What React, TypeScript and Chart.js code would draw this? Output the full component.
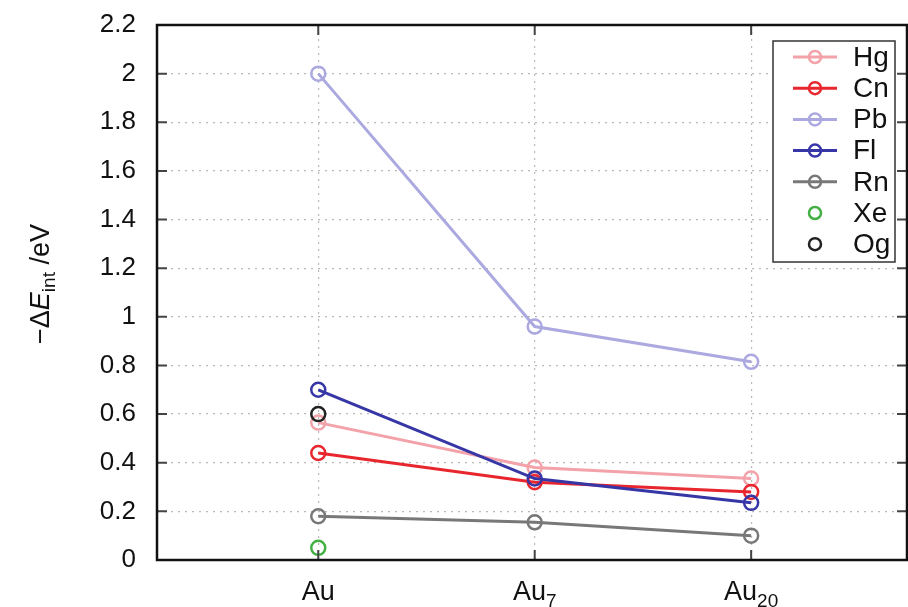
import React, { useEffect, useRef } from 'react';
import { Chart, registerables } from 'chart.js';

Chart.register(...registerables);

// ---- data ----
const categories = ['Au', 'Au_7', 'Au_20'];
const yTicks = [0, 0.2, 0.4, 0.6, 0.8, 1, 1.2, 1.4, 1.6, 1.8, 2, 2.2];
const seriesNames = ['Hg', 'Cn', 'Pb', 'Fl', 'Rn', 'Xe', 'Og'];
const hg = [0.565, 0.38, 0.335];
const cn = [0.44, 0.32, 0.28];
const pb = [2.0, 0.96, 0.815];
const fl = [0.7, 0.335, 0.235];
const rn = [0.18, 0.155, 0.1];
const xe = [0.05, null, null];
const og = [0.6, null, null];
const seriesValues = [hg, cn, pb, fl, rn, xe, og];
const seriesColors = ['#f3a2aa', '#e8262e', '#aba9e0', '#3636a6', '#787878', '#44b044', '#222222'];
const seriesHasLine = [true, true, true, true, true, false, false];
const seriesOrder = [3, 2, 4, 0, 5, 6, 1];

const FONT = '"Liberation Sans", Arial, sans-serif';

const decorPlugin = {
  id: 'decor',
  afterDraw(chart: any) {
    const { ctx, chartArea } = chart;
    const { left, right, top, bottom } = chartArea;
    const xs = chart.scales.x;
    const ys = chart.scales.y;
    ctx.save();
    // inward ticks
    ctx.strokeStyle = '#444';
    ctx.lineWidth = 2;
    yTicks.forEach((v) => {
      if (v === 0 || v === 2.2) return;
      const y = ys.getPixelForValue(v);
      ctx.beginPath();
      ctx.moveTo(left, y);
      ctx.lineTo(left + 10, y);
      ctx.moveTo(right, y);
      ctx.lineTo(right - 10, y);
      ctx.stroke();
    });
    categories.forEach((_, i) => {
      const x = xs.getPixelForValue(i + 1);
      ctx.beginPath();
      ctx.moveTo(x, bottom);
      ctx.lineTo(x, bottom - 10);
      ctx.moveTo(x, top);
      ctx.lineTo(x, top + 10);
      ctx.stroke();
    });
    // frame
    ctx.strokeStyle = '#111';
    ctx.lineWidth = 2.5;
    ctx.strokeRect(left, top, right - left, bottom - top);

    // x category labels with subscripts
    ctx.fillStyle = '#111';
    ctx.textBaseline = 'alphabetic';
    ctx.textAlign = 'left';
    categories.forEach((c, i) => {
      const [base, sub] = c.split('_');
      const mainFont = `27px ${FONT}`;
      const subFont = `19px ${FONT}`;
      ctx.font = mainFont;
      const wb = ctx.measureText(base).width;
      ctx.font = subFont;
      const ws = sub ? ctx.measureText(sub).width : 0;
      const x = xs.getPixelForValue(i + 1) - (wb + ws) / 2;
      const y = 600;
      ctx.font = mainFont;
      ctx.fillText(base, x, y);
      if (sub) {
        ctx.font = subFont;
        ctx.fillText(sub, x + wb, y + 7);
      }
    });

    // y axis title
    ctx.save();
    ctx.translate(49, 284);
    ctx.rotate(-Math.PI / 2);
    const parts = [
      { t: '\u2212\u0394', f: `27px ${FONT}`, dy: 0 },
      { t: 'E', f: `italic 27px ${FONT}`, dy: 0 },
      { t: 'int', f: `19px ${FONT}`, dy: 6 },
      { t: ' /eV', f: `27px ${FONT}`, dy: 0 },
    ];
    let total = 0;
    parts.forEach((p) => {
      ctx.font = p.f;
      total += ctx.measureText(p.t).width;
    });
    let cx = -total / 2;
    parts.forEach((p) => {
      ctx.font = p.f;
      ctx.fillText(p.t, cx, p.dy);
      cx += ctx.measureText(p.t).width;
    });
    ctx.restore();

    // legend
    const bx = 773, by = 41, bw = 122, bh = 221;
    ctx.fillStyle = '#fff';
    ctx.fillRect(bx, by, bw, bh);
    ctx.strokeStyle = '#333';
    ctx.lineWidth = 1.5;
    ctx.strokeRect(bx, by, bw, bh);
    seriesNames.forEach((name, i) => {
      const y = 57 + i * 31.2;
      const col = seriesColors[i];
      ctx.strokeStyle = col;
      if (seriesHasLine[i]) {
        ctx.lineWidth = 3;
        ctx.beginPath();
        ctx.moveTo(793, y);
        ctx.lineTo(837, y);
        ctx.stroke();
      }
      ctx.lineWidth = 2.5;
      ctx.beginPath();
      ctx.arc(815, y, 6, 0, Math.PI * 2);
      ctx.stroke();
      ctx.fillStyle = '#111';
      ctx.font = `28px ${FONT}`;
      ctx.textBaseline = 'middle';
      ctx.fillText(name, 853, y + 1);
    });
    ctx.restore();
  },
};

export default function App() {
  const ref = useRef<HTMLCanvasElement | null>(null);
  useEffect(() => {
    document.body.style.margin = '0';
    const canvas = ref.current;
    if (!canvas) return;
    const datasets = seriesNames.map((name, i) => ({
      label: name,
      data: seriesValues[i]
        .map((v, j) => ({ x: j + 1, y: v }))
        .filter((p) => p.y !== null),
      borderColor: seriesColors[i],
      backgroundColor: 'transparent',
      borderWidth: 3,
      pointRadius: 7,
      pointBorderWidth: 2.5,
      pointBackgroundColor: 'transparent',
      pointBorderColor: seriesColors[i],
      showLine: seriesHasLine[i],
      order: seriesOrder[i],
      clip: false as any,
    }));
    const chart = new Chart(canvas, {
      type: 'line',
      data: { datasets },
      options: {
        responsive: false,
        animation: false,
        layout: { autoPadding: false, padding: { top: 25, right: 1, left: 0, bottom: 0 } },
        plugins: { legend: { display: false }, tooltip: { enabled: false } },
        scales: {
          x: {
            type: 'linear',
            min: 0.255,
            max: 3.72,
            afterBuildTicks: (s: any) => {
              s.ticks = categories.map((_, i) => ({ value: i + 1 }));
            },
            afterFit: (s: any) => {
              s.height = 47;
              s.paddingLeft = 0;
              s.paddingRight = 0;
            },
            ticks: { display: false },
            border: { display: false, dash: [2, 5] },
            grid: {
              drawTicks: false,
              color: '#b8b8b8',
              lineWidth: 1.2,
            },
          },
          y: {
            min: 0,
            max: 2.2,
            afterBuildTicks: (s: any) => {
              s.ticks = yTicks.map((v) => ({ value: v }));
            },
            afterFit: (s: any) => {
              s.width = 157;
              s.paddingTop = 0;
              s.paddingBottom = 0;
            },
            ticks: {
              padding: 21,
              color: '#111',
              font: { family: FONT, size: 26 },
              callback: (v: any) => String(Number(Number(v).toFixed(1))),
            },
            border: { display: false, dash: [2, 5] },
            grid: {
              drawTicks: false,
              color: '#b8b8b8',
              lineWidth: 1.2,
            },
          },
        },
      },
      plugins: [decorPlugin],
    } as any);
    return () => chart.destroy();
  }, []);
  return <canvas ref={ref} width={908} height={607} style={{ display: 'block' }} />;
}
